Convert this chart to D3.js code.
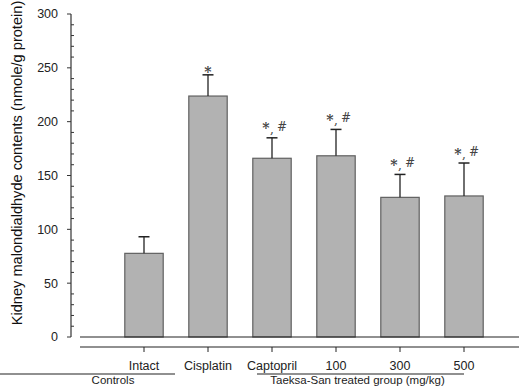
<!DOCTYPE html>
<html>
<head>
<meta charset="utf-8">
<script src="https://cdn.jsdelivr.net/npm/d3@7"></script>
<style>
  html, body { margin: 0; padding: 0; background: #fff; }
  svg { display: block; }
</style>
</head>
<body>
<div id="chart"></div>
<script>
const CATEGORIES = ['Intact', 'Cisplatin', 'Captopril', '100', '300', '500'];
const MEANS = [77.7, 223.8, 166, 168.3, 129.7, 131];
const ERRORS = [15.4, 19.7, 19, 24.5, 21.3, 30.6];
const MARKS = ['', '*', '*,#', '*,#', '*,#', '*,#'];
const Y_TICKS = [0, 50, 100, 150, 200, 250, 300];
const GROUPS = [
  {label: 'Controls', from: null, to: 'Intact'},
  {label: 'Taeksa-San treated group (mg/kg)', from: 'Captopril', to: '500'},
];

const WIDTH = 521;
const HEIGHT = 391;
const FONT = 'Liberation Sans, Arial, sans-serif';
const SERIF = 'DejaVu Serif';

const svg = d3.select('#chart')
    .append('svg')
    .attr('width', WIDTH)
    .attr('height', HEIGHT);

const xScale = d3.scaleBand()
    .domain(CATEGORIES)
    .range([112, 496])
    .paddingInner(0.4)
    .paddingOuter(0.2);
const yScale = d3.scaleLinear().domain([0, 300]).range([337, 14]);
const center = (c) => xScale(c) + xScale.bandwidth() / 2;

// y axis: major ticks outward, minor ticks inward
const axisX = 71;
const yAxis = svg.append('g').attr('transform', 'translate(' + axisX + ',0)');
yAxis.append('line')
    .attr('y1', yScale(0)).attr('y2', yScale(300))
    .attr('stroke', '#333').attr('stroke-width', 1.2);
yAxis.selectAll('.minor')
    .data(d3.range(0, 301, 10).filter((v) => v % 50 != 0))
    .enter()
    .append('line')
    .attr('x1', 0).attr('x2', 3)
    .attr('y1', (d) => yScale(d)).attr('y2', (d) => yScale(d))
    .attr('stroke', '#333');
yAxis.selectAll('.major')
    .data(Y_TICKS)
    .enter()
    .append('line')
    .attr('x1', -4).attr('x2', 0)
    .attr('y1', (d) => yScale(d)).attr('y2', (d) => yScale(d))
    .attr('stroke', '#333');
yAxis.selectAll('text')
    .data(Y_TICKS)
    .enter()
    .append('text')
    .attr('x', -13)
    .attr('y', (d) => yScale(d))
    .attr('dy', '0.35em')
    .attr('text-anchor', 'end')
    .attr('font-family', FONT)
    .attr('font-size', 12.5)
    .attr('fill', '#222')
    .text((d) => d);

svg.append('text')
    .attr('transform', 'translate(22,' + 163 + ') rotate(-90)')
    .attr('text-anchor', 'middle')
    .attr('font-family', FONT)
    .attr('font-size', 14.6)
    .attr('fill', '#111')
    .text('Kidney malondialdhyde contents (nmole/g protein)');

// bars
svg.selectAll('.bar')
    .data(CATEGORIES)
    .enter()
    .append('rect')
    .attr('x', (d) => xScale(d))
    .attr('width', xScale.bandwidth())
    .attr('y', (d, i) => yScale(MEANS[i]))
    .attr('height', (d, i) => yScale(0) - yScale(MEANS[i]))
    .attr('fill', '#b2b2b2')
    .attr('stroke', '#606060')
    .attr('stroke-width', 1.2);

// error bars
const err = svg.selectAll('.err')
    .data(CATEGORIES)
    .enter()
    .append('g');
err.append('line')
    .attr('x1', (d) => center(d)).attr('x2', (d) => center(d))
    .attr('y1', (d, i) => yScale(MEANS[i]))
    .attr('y2', (d, i) => yScale(MEANS[i] + ERRORS[i]))
    .attr('stroke', '#222').attr('stroke-width', 1.3);
err.append('line')
    .attr('x1', (d) => center(d) - 5.5).attr('x2', (d) => center(d) + 5.5)
    .attr('y1', (d, i) => yScale(MEANS[i] + ERRORS[i]))
    .attr('y2', (d, i) => yScale(MEANS[i] + ERRORS[i]))
    .attr('stroke', '#222').attr('stroke-width', 1.5);

// significance marks
function mark(x, y, s, size, weight) {
  svg.append('text')
      .attr('x', x).attr('y', y)
      .attr('text-anchor', 'middle')
      .attr('font-family', SERIF)
      .attr('font-size', size)
      .attr('font-weight', weight || 'normal')
      .attr('fill', '#444')
      .text(s);
}
CATEGORIES.forEach((c, i) => {
  if (!MARKS[i]) {
    return;
  }
  const cap = yScale(MEANS[i] + ERRORS[i]);
  if (MARKS[i] == '*') {
    mark(center(c), cap + 2.5, '*', 14, 'bold');
  } else {
    mark(center(c) - 6, cap - 4.5, '*', 14, 'bold');
    mark(center(c), cap - 5, ',', 12);
    mark(center(c) + 10, cap - 7, '#', 12);
  }
});

// baseline and category axis
svg.append('line')
    .attr('x1', 80).attr('x2', 519)
    .attr('y1', yScale(0)).attr('y2', yScale(0))
    .attr('stroke', '#222').attr('stroke-width', 1.2);
const xAxisY = 347;
svg.append('line')
    .attr('x1', 80).attr('x2', 519)
    .attr('y1', xAxisY).attr('y2', xAxisY)
    .attr('stroke', '#222').attr('stroke-width', 1.2);
svg.selectAll('.xtick')
    .data(CATEGORIES)
    .enter()
    .append('line')
    .attr('x1', (d) => center(d)).attr('x2', (d) => center(d))
    .attr('y1', xAxisY).attr('y2', xAxisY + 5)
    .attr('stroke', '#222');
svg.selectAll('.xlabel')
    .data(CATEGORIES)
    .enter()
    .append('text')
    .attr('x', (d) => center(d))
    .attr('y', 369.5)
    .attr('text-anchor', 'middle')
    .attr('font-family', FONT)
    .attr('font-size', 12.5)
    .attr('fill', '#222')
    .text((d) => d);

// group brackets
const groupY = 374;
GROUPS.forEach((g) => {
  const x1 = g.from ? center(g.from) - 15 : 0;
  const x2 = g.to == 'Intact' ? center(g.to) + 31 : center(g.to);
  svg.append('line')
      .attr('x1', x1).attr('x2', x2)
      .attr('y1', groupY).attr('y2', groupY)
      .attr('stroke', '#222').attr('stroke-width', 1.2);
  svg.append('text')
      .attr('x', g.from ? (x1 + x2) / 2 - 3 : 113)
      .attr('y', 384)
      .attr('text-anchor', 'middle')
      .attr('font-family', FONT)
      .attr('font-size', 11.5)
      .attr('fill', '#222')
      .text(g.label);
});
</script>
</body>
</html>
